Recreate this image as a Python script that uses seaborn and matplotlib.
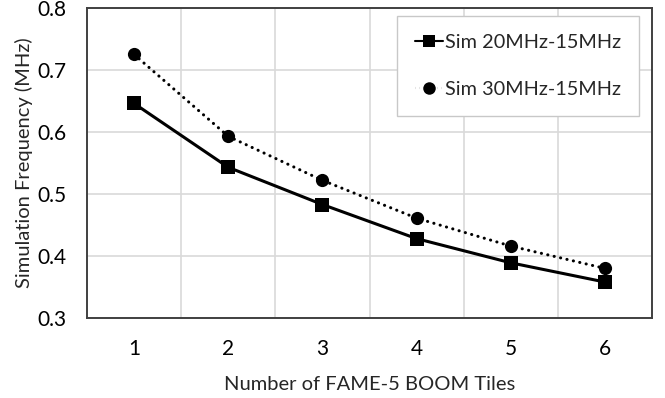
import pandas as pd
import matplotlib.pyplot as plt
import seaborn as sns
from matplotlib.ticker import FixedLocator

# chart data
tiles = [1, 2, 3, 4, 5, 6]
sim_20_15 = [0.646, 0.543, 0.483, 0.428, 0.389, 0.358]
sim_30_15 = [0.725, 0.593, 0.522, 0.461, 0.416, 0.380]
labels = ['Sim 20MHz-15MHz', 'Sim 30MHz-15MHz']
yticks = [0.3, 0.4, 0.5, 0.6, 0.7, 0.8]

df = pd.DataFrame({
    'Tiles': tiles * 2,
    'Freq': sim_20_15 + sim_30_15,
    'Series': [labels[0]] * len(tiles) + [labels[1]] * len(tiles),
})

sns.set_style('white')
plt.rcParams['font.family'] = ['Lato', 'DejaVu Sans']

fig = plt.figure(figsize=(6.65, 3.98), dpi=100)
ax = fig.add_axes([0.1308, 0.201, 0.9805 - 0.1308, 0.98 - 0.201])

sns.lineplot(data=df, x='Tiles', y='Freq', hue='Series', style='Series',
             palette=['black', 'black'], dashes={labels[0]: '', labels[1]: (0.05, 2.1)},
             markers={labels[0]: 's', labels[1]: 'o'}, markeredgewidth=0,
             ax=ax)

# make the two series look like the reference
lines = ax.get_lines()
lines[0].set_linewidth(2.2)
lines[0].set_markersize(9.5)
lines[1].set_linewidth(2.2)
lines[1].set_markersize(9.5)
lines[1].set_dash_capstyle('round')

ax.set_xlim(0.5, 6.5)
ax.set_ylim(0.3, 0.8)
ax.xaxis.set_minor_locator(FixedLocator([1.5, 2.5, 3.5, 4.5, 5.5]))
ax.set_xticks(tiles)
ax.set_yticks(yticks)
ax.set_yticklabels([f'{v:.1f}' for v in yticks])
ax.grid(False)
ax.grid(which='minor', axis='x', color='#d9d9d9', linewidth=1.2)
ax.grid(which='major', axis='y', color='#d9d9d9', linewidth=1.2)
ax.tick_params(axis='both', which='both', length=0, labelsize=15, colors='black', pad=15)

for s in ax.spines.values():
    s.set_color('#404040')
    s.set_linewidth(1.4)

ax.set_xlabel('Number of FAME-5 BOOM Tiles', fontsize=14.5, labelpad=12)
ax.set_ylabel('Simulation Frequency (MHz)', fontsize=14.5, labelpad=3)

leg = ax.legend(loc='upper right', bbox_to_anchor=(0.977, 0.974), borderaxespad=0,
                fontsize=14.3, handlelength=1.4, handletextpad=0.1, labelspacing=1.5,
                borderpad=0.9, fancybox=False, framealpha=1, edgecolor='#c8c8c8')
leg.get_frame().set_linewidth(1.0)
for h in leg.get_lines():
    h.set_markersize(9)

fig.savefig('out.png', dpi=100)
